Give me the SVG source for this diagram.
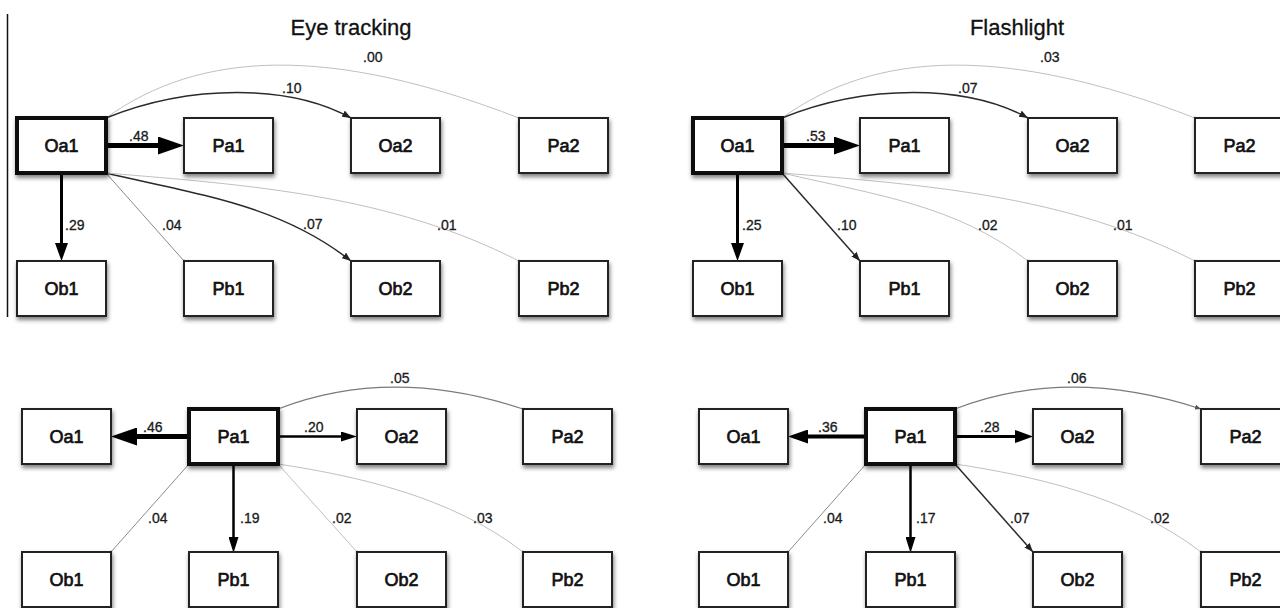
<svg xmlns="http://www.w3.org/2000/svg" width="1280" height="608" viewBox="0 0 1280 608">
  <style>
    .box { fill: #fff; stroke: #222; stroke-width: 2; filter: url(#shadow); }
    .box.focus { stroke: #111; stroke-width: 4; }
    .node text { font-family: "Liberation Sans", Arial, sans-serif; font-size: 18px; fill: #111; stroke: #111; stroke-width: 0.7; text-anchor: middle; }
    .title { font-family: "Liberation Sans", Arial, sans-serif; font-size: 22px; fill: #111; stroke: #111; stroke-width: 0.3; text-anchor: middle; }
    .lbl { font-family: "Liberation Sans", Arial, sans-serif; font-size: 14px; fill: #1a1a1a; stroke: #1a1a1a; stroke-width: 0.3; }
    .e { fill: none; }
    .w5 { stroke: #000; stroke-width: 5; }
    .w4 { stroke: #000; stroke-width: 4; }
    .w3 { stroke: #000; stroke-width: 3; }
    .w25 { stroke: #000; stroke-width: 2.5; }
    .dark { stroke: #2a2a2a; stroke-width: 1.5; }
    .mid { stroke: #7a7a7a; stroke-width: 1.2; }
    .grey { stroke: #8a8a8a; stroke-width: 1; }
    .faint { stroke: #c0c0c0; stroke-width: 1; }
  </style>
  <defs>
    <filter id="shadow" x="-20%" y="-20%" width="140%" height="160%">
      <feDropShadow dx="1" dy="3" stdDeviation="2.2" flood-color="#000" flood-opacity="0.5"/>
    </filter>
    <!-- base-anchored heads: the line ends where the head begins -->
    <marker id="ah-xl" markerUnits="userSpaceOnUse" markerWidth="26" markerHeight="18" refX="0" refY="9" orient="auto">
      <path d="M0,0 L26,9 L0,18 z" fill="#000"/>
    </marker>
    <marker id="ah-l" markerUnits="userSpaceOnUse" markerWidth="20" markerHeight="14" refX="0" refY="7" orient="auto">
      <path d="M0,0 L20,7 L0,14 z" fill="#000"/>
    </marker>
    <marker id="ah-m" markerUnits="userSpaceOnUse" markerWidth="18" markerHeight="13" refX="0" refY="6.5" orient="auto">
      <path d="M0,0 L18,6.5 L0,13 z" fill="#000"/>
    </marker>
    <marker id="ah-sm" markerUnits="userSpaceOnUse" markerWidth="16" markerHeight="10" refX="0" refY="5" orient="auto">
      <path d="M0,0 L16,5 L0,10 z" fill="#000"/>
    </marker>
    <!-- tip-anchored heads for thin lines -->
    <marker id="ah-s" markerUnits="userSpaceOnUse" markerWidth="9" markerHeight="7" refX="9" refY="3.5" orient="auto">
      <path d="M0,0 L9,3.5 L0,7 z" fill="#222"/>
    </marker>
    <marker id="ah-xs" markerUnits="userSpaceOnUse" markerWidth="6" markerHeight="5" refX="6" refY="2.5" orient="auto">
      <path d="M0,0 L6,2.5 L0,5 z" fill="#555"/>
    </marker>
    <marker id="dot" markerUnits="userSpaceOnUse" markerWidth="4" markerHeight="4" refX="2" refY="2" orient="auto">
      <circle cx="2" cy="2" r="1.3" fill="#666"/>
    </marker>
  </defs>

  <rect width="1280" height="608" fill="#fff"/>

  <!-- panel divider at the left edge -->
  <line x1="7.5" y1="14" x2="7.5" y2="317" stroke="#111" stroke-width="1.5"/>

  <text class="title" x="351" y="35">Eye tracking</text>
  <text class="title" x="1017" y="35">Flashlight</text>

  <!-- connectors -->
  <g id="connectors">
    <!-- Eye tracking, from Oa1 -->
    <path class="e faint" d="M106,118 C200,50 330,45 519,118" marker-end="url(#dot)"/>
    <path class="e dark" d="M106,118 C190,84 290,84 351,118" marker-end="url(#ah-s)"/>
    <path class="e w5" d="M106,145.5 H158" marker-end="url(#ah-xl)"/>
    <path class="e w3" d="M61.5,173 V243" marker-end="url(#ah-m)"/>
    <path class="e grey" d="M106,173 L184,261" marker-end="url(#dot)"/>
    <path class="e dark" d="M106,173 C200,195 280,205 351,261" marker-end="url(#ah-s)"/>
    <path class="e faint" d="M106,173 C250,185 390,195 519,261" marker-end="url(#dot)"/>

    <!-- Flashlight, from Oa1 -->
    <path class="e faint" d="M782,118 C876,50 1006,45 1195,118" marker-end="url(#dot)"/>
    <path class="e dark" d="M782,118 C866,84 966,84 1028,118" marker-end="url(#ah-s)"/>
    <path class="e w5" d="M782,145.5 H834" marker-end="url(#ah-xl)"/>
    <path class="e w3" d="M737.5,173 V243" marker-end="url(#ah-m)"/>
    <path class="e dark" d="M782,173 L860,261" marker-end="url(#ah-s)"/>
    <path class="e faint" d="M782,173 C876,195 956,205 1028,261" marker-end="url(#dot)"/>
    <path class="e faint" d="M782,173 C926,185 1066,195 1195,261" marker-end="url(#dot)"/>

    <!-- Eye tracking, from Pa1 -->
    <path class="e w5" d="M189,436.5 H137" marker-end="url(#ah-xl)"/>
    <path class="e w25" d="M278,436.5 H341" marker-end="url(#ah-sm)"/>
    <path class="e w25" d="M233.5,464 V537" marker-end="url(#ah-sm)"/>
    <path class="e mid" d="M278,409 C340,385 420,375 523,409" marker-end="url(#dot)"/>
    <path class="e grey" d="M189,464 L111,552" marker-end="url(#dot)"/>
    <path class="e faint" d="M278,464 L357,552" marker-end="url(#dot)"/>
    <path class="e faint" d="M278,464 C350,475 450,495 523,552" marker-end="url(#dot)"/>

    <!-- Flashlight, from Pa1 -->
    <path class="e w4" d="M866,436.5 H808" marker-end="url(#ah-l)"/>
    <path class="e w3" d="M955,436.5 H1015" marker-end="url(#ah-m)"/>
    <path class="e w25" d="M910.5,464 V537" marker-end="url(#ah-sm)"/>
    <path class="e mid" d="M955,409 C1017,385 1097,375 1201,409" marker-end="url(#ah-xs)"/>
    <path class="e grey" d="M866,464 L788,552" marker-end="url(#dot)"/>
    <path class="e dark" d="M955,464 L1033,552" marker-end="url(#ah-s)"/>
    <path class="e faint" d="M955,464 C1027,475 1127,495 1201,552" marker-end="url(#dot)"/>
  </g>

  <!-- connector weights -->
  <g id="weights" class="lbl">
    <text x="363" y="62">.00</text>
    <text x="282" y="93">.10</text>
    <text x="129" y="141">.48</text>
    <text x="65" y="230">.29</text>
    <text x="162" y="230">.04</text>
    <text x="303" y="229">.07</text>
    <text x="437" y="230">.01</text>

    <text x="1040" y="62">.03</text>
    <text x="958" y="93">.07</text>
    <text x="806" y="141">.53</text>
    <text x="742" y="230">.25</text>
    <text x="837" y="230">.10</text>
    <text x="978" y="230">.02</text>
    <text x="1113" y="230">.01</text>

    <text x="390" y="383">.05</text>
    <text x="143" y="432">.46</text>
    <text x="304" y="432">.20</text>
    <text x="148" y="523">.04</text>
    <text x="240" y="523">.19</text>
    <text x="332" y="523">.02</text>
    <text x="473" y="523">.03</text>

    <text x="1067" y="383">.06</text>
    <text x="818" y="432">.36</text>
    <text x="980" y="432">.28</text>
    <text x="823" y="523">.04</text>
    <text x="916" y="523">.17</text>
    <text x="1010" y="523">.07</text>
    <text x="1150" y="523">.02</text>
  </g>

  <!-- Eye tracking: Oa1 as source -->
  <g id="et1-Oa1" class="node"><rect class="box focus" x="17" y="118" width="89" height="55"/><text x="61.5" y="152">Oa1</text></g>
  <g id="et1-Pa1" class="node"><rect class="box" x="184" y="118" width="89" height="55"/><text x="228.5" y="152">Pa1</text></g>
  <g id="et1-Oa2" class="node"><rect class="box" x="351" y="118" width="89" height="55"/><text x="395.5" y="152">Oa2</text></g>
  <g id="et1-Pa2" class="node"><rect class="box" x="519" y="118" width="89" height="55"/><text x="563.5" y="152">Pa2</text></g>
  <g id="et1-Ob1" class="node"><rect class="box" x="17" y="261" width="89" height="55"/><text x="61.5" y="295">Ob1</text></g>
  <g id="et1-Pb1" class="node"><rect class="box" x="184" y="261" width="89" height="55"/><text x="228.5" y="295">Pb1</text></g>
  <g id="et1-Ob2" class="node"><rect class="box" x="351" y="261" width="89" height="55"/><text x="395.5" y="295">Ob2</text></g>
  <g id="et1-Pb2" class="node"><rect class="box" x="519" y="261" width="89" height="55"/><text x="563.5" y="295">Pb2</text></g>

  <!-- Flashlight: Oa1 as source -->
  <g id="fl1-Oa1" class="node"><rect class="box focus" x="693" y="118" width="89" height="55"/><text x="737.5" y="152">Oa1</text></g>
  <g id="fl1-Pa1" class="node"><rect class="box" x="860" y="118" width="89" height="55"/><text x="904.5" y="152">Pa1</text></g>
  <g id="fl1-Oa2" class="node"><rect class="box" x="1028" y="118" width="89" height="55"/><text x="1072.5" y="152">Oa2</text></g>
  <g id="fl1-Pa2" class="node"><rect class="box" x="1195" y="118" width="89" height="55"/><text x="1239.5" y="152">Pa2</text></g>
  <g id="fl1-Ob1" class="node"><rect class="box" x="693" y="261" width="89" height="55"/><text x="737.5" y="295">Ob1</text></g>
  <g id="fl1-Pb1" class="node"><rect class="box" x="860" y="261" width="89" height="55"/><text x="904.5" y="295">Pb1</text></g>
  <g id="fl1-Ob2" class="node"><rect class="box" x="1028" y="261" width="89" height="55"/><text x="1072.5" y="295">Ob2</text></g>
  <g id="fl1-Pb2" class="node"><rect class="box" x="1195" y="261" width="89" height="55"/><text x="1239.5" y="295">Pb2</text></g>

  <!-- Eye tracking: Pa1 as source -->
  <g id="et2-Oa1" class="node"><rect class="box" x="22" y="409" width="89" height="55"/><text x="66.5" y="443">Oa1</text></g>
  <g id="et2-Pa1" class="node"><rect class="box focus" x="189" y="409" width="89" height="55"/><text x="233.5" y="443">Pa1</text></g>
  <g id="et2-Oa2" class="node"><rect class="box" x="357" y="409" width="89" height="55"/><text x="401.5" y="443">Oa2</text></g>
  <g id="et2-Pa2" class="node"><rect class="box" x="523" y="409" width="89" height="55"/><text x="567.5" y="443">Pa2</text></g>
  <g id="et2-Ob1" class="node"><rect class="box" x="22" y="552" width="89" height="55"/><text x="66.5" y="586">Ob1</text></g>
  <g id="et2-Pb1" class="node"><rect class="box" x="189" y="552" width="89" height="55"/><text x="233.5" y="586">Pb1</text></g>
  <g id="et2-Ob2" class="node"><rect class="box" x="357" y="552" width="89" height="55"/><text x="401.5" y="586">Ob2</text></g>
  <g id="et2-Pb2" class="node"><rect class="box" x="523" y="552" width="89" height="55"/><text x="567.5" y="586">Pb2</text></g>

  <!-- Flashlight: Pa1 as source -->
  <g id="fl2-Oa1" class="node"><rect class="box" x="699" y="409" width="89" height="55"/><text x="743.5" y="443">Oa1</text></g>
  <g id="fl2-Pa1" class="node"><rect class="box focus" x="866" y="409" width="89" height="55"/><text x="910.5" y="443">Pa1</text></g>
  <g id="fl2-Oa2" class="node"><rect class="box" x="1033" y="409" width="89" height="55"/><text x="1077.5" y="443">Oa2</text></g>
  <g id="fl2-Pa2" class="node"><rect class="box" x="1201" y="409" width="89" height="55"/><text x="1245.5" y="443">Pa2</text></g>
  <g id="fl2-Ob1" class="node"><rect class="box" x="699" y="552" width="89" height="55"/><text x="743.5" y="586">Ob1</text></g>
  <g id="fl2-Pb1" class="node"><rect class="box" x="866" y="552" width="89" height="55"/><text x="910.5" y="586">Pb1</text></g>
  <g id="fl2-Ob2" class="node"><rect class="box" x="1033" y="552" width="89" height="55"/><text x="1077.5" y="586">Ob2</text></g>
  <g id="fl2-Pb2" class="node"><rect class="box" x="1201" y="552" width="89" height="55"/><text x="1245.5" y="586">Pb2</text></g>
</svg>
